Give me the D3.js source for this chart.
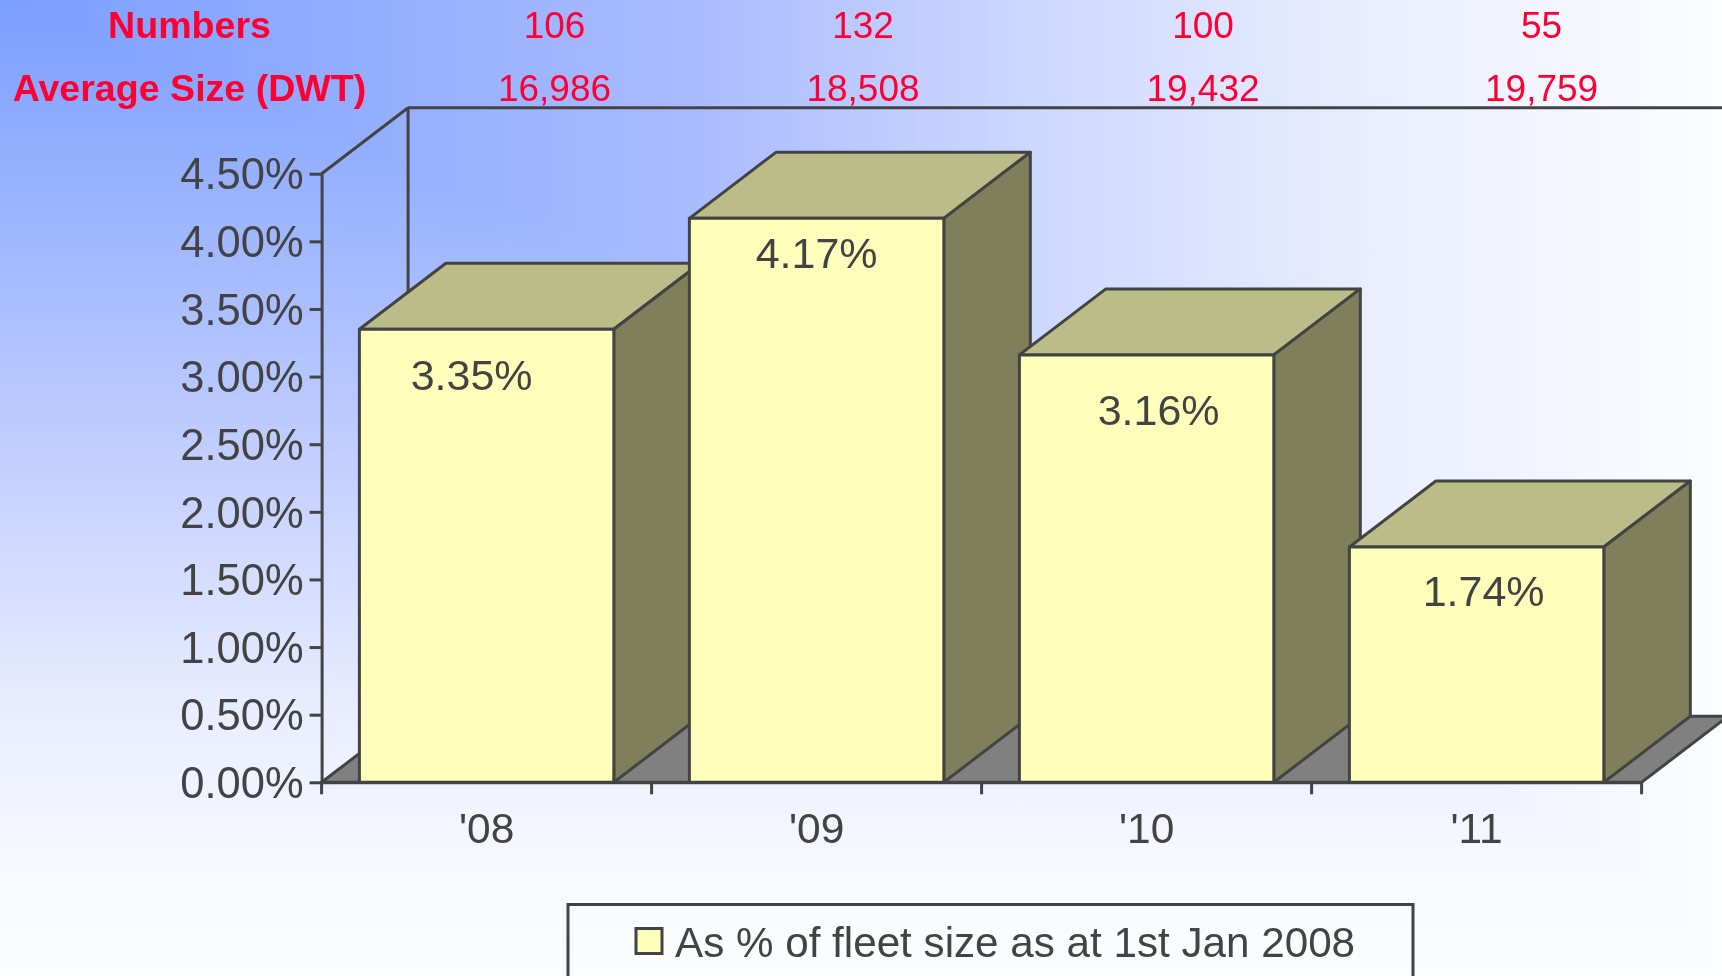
<!DOCTYPE html>
<html>
<head>
<meta charset="utf-8">
<script src="https://cdnjs.cloudflare.com/ajax/libs/d3/7.8.5/d3.min.js"></script>
<style>
html, body { margin: 0; padding: 0; overflow: hidden; background: #fbfcff; }
svg { display: block; }
text { font-family: "Liberation Sans", Arial, sans-serif; }
</style>
</head>
<body>
<svg id="canvas" width="1722" height="976"></svg>
<script>
const CATEGORIES = ["'08", "'09", "'10", "'11"];
const SHARE = [3.35, 4.17, 3.16, 1.74];
const SHARE_LABELS = ["3.35%", "4.17%", "3.16%", "1.74%"];
const Y_TICKS = [0, 0.5, 1, 1.5, 2, 2.5, 3, 3.5, 4, 4.5];
const NUMBERS = ["106", "132", "100", "55"];
const AVERAGE_SIZE = ["16,986", "18,508", "19,432", "19,759"];
const LEGEND_LABEL = "As % of fleet size as at 1st Jan 2008";

const WIDTH = 1722;
const HEIGHT = 976;
const DEPTH_X = 86.5;
const DEPTH_Y = 66;
const STROKE = 3;
const INK = "#434343";
const RED = "#ff0033";

const svg = d3.select("#canvas");

const scaleX = d3.scaleBand()
    .domain(CATEGORIES)
    .range([321.6, 1641.6])
    .paddingInner(0.229)
    .paddingOuter(0.1145);

const scaleY = d3.scaleLinear()
    .domain([0, 4.5])
    .range([782.3, 173.7]);

// background: lightens away from the top left corner, a bit slower going right than going down
const defs = svg.append("defs");
const bgStops = {
    bgH: [[0, "#7b9fff"], [0.4, "#a9bbff"], [0.6, "#cdd8ff"], [0.8, "#eaeeff"], [1, "#fcfdff"]],
    bgV: [[0, "#7b9fff"], [0.41, "#b9c8ff"], [0.72, "#e8ecff"], [0.9, "#f8faff"], [1, "#fcfdff"]]
};
[["bgH", WIDTH, 0], ["bgV", 0, HEIGHT]].forEach(([id, x2, y2]) => {
    const g = defs.append("linearGradient")
        .attr("id", id)
        .attr("gradientUnits", "userSpaceOnUse")
        .attr("x1", 0).attr("y1", 0)
        .attr("x2", x2).attr("y2", y2);
    bgStops[id].forEach(([o, c]) => g.append("stop").attr("offset", o).attr("stop-color", c));
});
svg.append("rect").attr("width", WIDTH).attr("height", HEIGHT).attr("fill", "url(#bgV)");
svg.append("rect").attr("width", WIDTH).attr("height", HEIGHT).attr("fill", "url(#bgH)")
    .style("mix-blend-mode", "lighten");

const plotBase = scaleY(0);
const plotLeft = scaleX.range()[0];
const plotRight = scaleX.range()[1];
const plotTop = scaleY(4.5);

function line(g, x1, y1, x2, y2) {
    g.append("line")
        .attr("x1", x1).attr("y1", y1)
        .attr("x2", x2).attr("y2", y2)
        .attr("stroke", INK)
        .attr("stroke-width", STROKE);
}

// walls and floor
const walls = svg.append("g");
walls.append("path")
    .attr("d", `M${plotLeft},${plotBase}L${plotLeft + DEPTH_X},${plotBase - DEPTH_Y}L${plotRight + DEPTH_X},${plotBase - DEPTH_Y}L${plotRight},${plotBase}Z`)
    .attr("fill", "#808080")
    .attr("stroke", INK)
    .attr("stroke-width", STROKE);
line(walls, plotLeft, plotTop, plotLeft + DEPTH_X, plotTop - DEPTH_Y);
line(walls, plotLeft + DEPTH_X, plotTop - DEPTH_Y, plotLeft + DEPTH_X, plotBase - DEPTH_Y);
line(walls, plotLeft + DEPTH_X, plotTop - DEPTH_Y, WIDTH, plotTop - DEPTH_Y);

// x ticks sit on the category edges
d3.range(CATEGORIES.length + 1).forEach(i => {
    const x = plotLeft + i * scaleX.step();
    line(walls, x, plotBase, x, plotBase + 12);
});

// bars
const bars = svg.selectAll(".bar")
    .data(SHARE)
    .enter()
    .append("g")
    .attr("class", "bar")
    .attr("stroke", INK)
    .attr("stroke-width", STROKE)
    .attr("stroke-linejoin", "round");

const barX = (d, i) => scaleX(CATEGORIES[i]);

bars.append("path")
    .attr("fill", "#bcbc88")
    .attr("d", (d, i) => {
        const x = barX(d, i), y = scaleY(d), w = scaleX.bandwidth();
        return `M${x},${y}L${x + DEPTH_X},${y - DEPTH_Y}L${x + w + DEPTH_X},${y - DEPTH_Y}L${x + w},${y}Z`;
    });

bars.append("path")
    .attr("fill", "#7f7f5b")
    .attr("d", (d, i) => {
        const x = barX(d, i) + scaleX.bandwidth(), y = scaleY(d);
        return `M${x},${y}L${x + DEPTH_X},${y - DEPTH_Y}L${x + DEPTH_X},${plotBase - DEPTH_Y}L${x},${plotBase}Z`;
    });

bars.append("rect")
    .attr("fill", "#ffffbb")
    .attr("x", barX)
    .attr("y", d => scaleY(d))
    .attr("width", scaleX.bandwidth())
    .attr("height", d => plotBase - scaleY(d));

// axes
const axisY = d3.axisLeft(scaleY)
    .tickValues(Y_TICKS)
    .tickFormat(d => d3.format(".2f")(d) + "%")
    .tickSizeInner(12)
    .tickSizeOuter(0)
    .tickPadding(6);

const gY = svg.append("g").attr("transform", `translate(${plotLeft},0)`).call(axisY);
gY.selectAll("path, line").attr("stroke", INK).attr("stroke-width", STROKE);
gY.selectAll("text").attr("font-size", 43.5).attr("fill", INK).attr("dy", "0.35em").style("font-family", '"Liberation Sans"');

const axisX = d3.axisBottom(scaleX).tickSize(0).tickPadding(31);
const gX = svg.append("g").attr("transform", `translate(0,${plotBase})`).call(axisX);
gX.select("path").attr("stroke", INK).attr("stroke-width", STROKE);
gX.selectAll("text").attr("font-size", 42.5).attr("fill", INK).style("font-family", '"Liberation Sans"');

// labels are placed by hand on the bars in the original
const labelDx = [-15, 0, 12, 7];
const labelDy = [46, 35, 55, 44];
svg.selectAll(".share-label")
    .data(SHARE)
    .enter()
    .append("text")
    .attr("class", "share-label")
    .attr("x", (d, i) => barX(d, i) + scaleX.bandwidth() / 2 + labelDx[i])
    .attr("y", (d, i) => scaleY(d) + labelDy[i])
    .attr("dy", "0.35em")
    .attr("text-anchor", "middle")
    .attr("font-size", 43)
    .attr("fill", INK)
    .text((d, i) => SHARE_LABELS[i]);

// table above the plot
const headerX = [554.5, 863, 1203, 1541.6];
const headerRows = [
    { y: 25, title: "Numbers", values: NUMBERS },
    { y: 88, title: "Average Size (DWT)", values: AVERAGE_SIZE }
];
headerRows.forEach(row => {
    svg.append("text")
        .attr("x", 189.5)
        .attr("y", row.y)
        .attr("dy", "0.35em")
        .attr("text-anchor", "middle")
        .attr("font-size", 37.6)
        .attr("font-weight", "bold")
        .attr("fill", RED)
        .text(row.title);
    svg.selectAll(null)
        .data(row.values)
        .enter()
        .append("text")
        .attr("x", (d, i) => headerX[i])
        .attr("y", row.y)
        .attr("dy", "0.35em")
        .attr("text-anchor", "middle")
        .attr("font-size", 37)
        .attr("fill", RED)
        .text(d => d);
});

// legend runs off the bottom of the picture
const legend = svg.append("g");
legend.append("rect")
    .attr("x", 568).attr("y", 904.5)
    .attr("width", 845).attr("height", 120)
    .attr("fill", "none")
    .attr("stroke", INK)
    .attr("stroke-width", STROKE);
legend.append("rect")
    .attr("x", 636).attr("y", 928.5)
    .attr("width", 26).attr("height", 25)
    .attr("fill", "#ffffbb")
    .attr("stroke", INK)
    .attr("stroke-width", STROKE);
legend.append("text")
    .attr("x", 675)
    .attr("y", 956.5)
    .attr("font-size", 42.2)
    .attr("fill", INK)
    .text(LEGEND_LABEL);
</script>
</body>
</html>
